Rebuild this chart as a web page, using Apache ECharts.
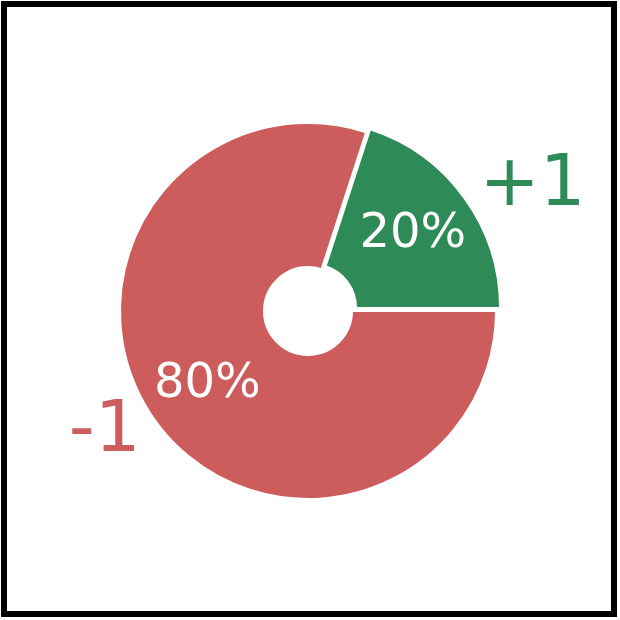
<!DOCTYPE html>
<html>
<head>
<meta charset="utf-8">
<script src="https://cdn.jsdelivr.net/npm/echarts@6/dist/echarts.min.js"></script>
<style>
html,body{margin:0;padding:0;background:#fff;}
#chart{width:620px;height:620px;}
</style>
</head>
<body>
<div id="chart"></div>
<script>
const categories = ['+1', '-1'];
const shares = [20, 80];
const colors = ['#2E8B57', '#CD5C5C'];
const explodeFlags = [true, false];

const font = 'DejaVu Sans';
const center = [308, 311];
const R = 188;

function makeData(transparent) {
  return categories.map((c, i) => ({
    name: c,
    value: shares[i],
    selected: explodeFlags[i],
    itemStyle: transparent ? { color: 'rgba(0,0,0,0)', borderWidth: 0 } : { color: colors[i] },
    label: transparent ? { color: colors[i] } : {}
  }));
}

const common = {
  type: 'pie',
  center: center,
  clockwise: false,
  startAngle: 0,
  selectedMode: 'single',
  selectedOffset: 5,
  animation: false,
  avoidLabelOverlap: false,
  silent: true
};

const chart = echarts.init(document.getElementById('chart'), null, { renderer: 'canvas' });
chart.setOption({
  backgroundColor: '#fff',
  animation: false,
  graphic: [{
    type: 'rect',
    shape: { x: 4, y: 4, width: 610, height: 610 },
    style: { fill: 'none', stroke: '#000', lineWidth: 6 },
    z: 10
  }],
  series: [
    Object.assign({}, common, {
      radius: [44, R],
      itemStyle: { borderColor: '#fff', borderWidth: 2 },
      label: { show: false },
      labelLine: { show: false },
      data: makeData(false),
      z: 2
    }),
    Object.assign({}, common, {
      radius: [55, R],
      label: {
        show: true,
        position: 'inside',
        formatter: p => Math.round(p.percent) + '%',
        color: '#fff',
        fontFamily: font,
        fontSize: 48
      },
      labelLine: { show: false },
      data: makeData(true).map(d => Object.assign(d, { label: {} })),
      z: 3
    }),
    Object.assign({}, common, {
      radius: [0, R],
      label: {
        show: true,
        position: 'outside',
        formatter: '{b}',
        fontFamily: font,
        fontSize: 72,
        distanceToLabelLine: 0
      },
      labelLine: { show: false, length: 19, length2: 0 },
      data: makeData(true),
      z: 3
    })
  ]
});
</script>
</body>
</html>
